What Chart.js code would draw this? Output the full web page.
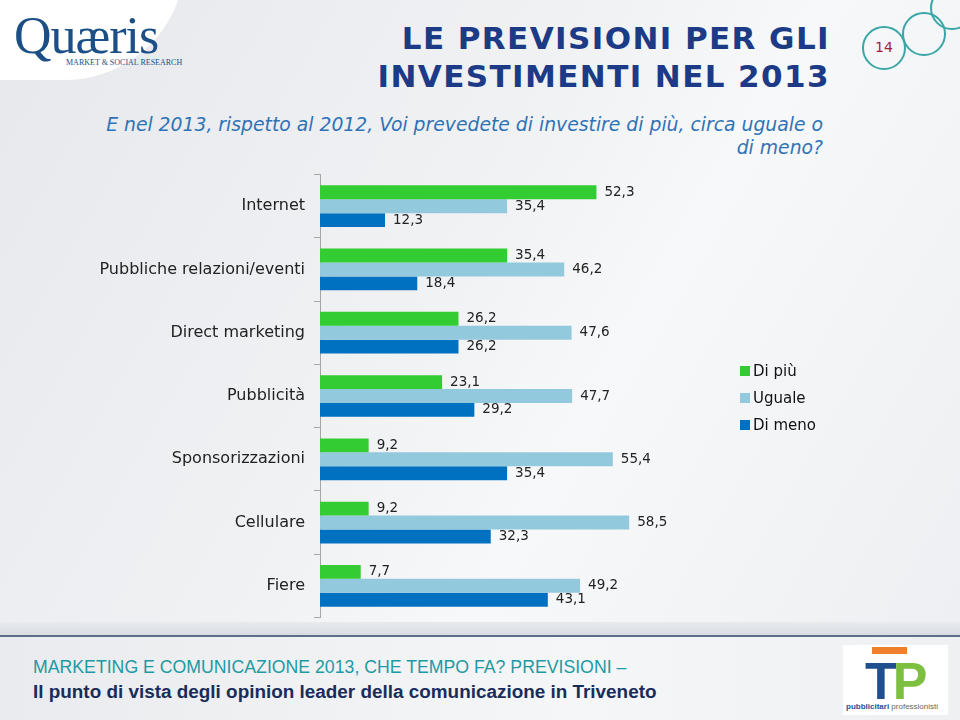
<!DOCTYPE html>
<html>
<head>
<meta charset="utf-8">
<script src="https://cdn.jsdelivr.net/npm/chart.js@4"></script>
<style>
  body { margin: 0; }
  #page {
    position: relative; width: 960px; height: 720px; overflow: hidden;
    background: linear-gradient(120deg, #e6e8ec 0%, #f1f2f4 45%, #f7f8f9 60%, #eceef1 100%);
    font-family: "DejaVu Sans", sans-serif;
  }
  #blob {
    position: absolute; left: -40px; top: -60px; width: 225px; height: 140px;
    background: #fff; border-radius: 0 0 120px 0;
  }
  #logo { position: absolute; left: 14px; top: 8px; color: #1b4f86; }
  #logo .name { font-family: "Liberation Serif", serif; font-size: 52px; letter-spacing: -1px; line-height: 56px; }
  #logo .sub { font-family: "Liberation Serif", serif; font-size: 8px; margin-left: 52px; margin-top: -6px; }
  #title {
    position: absolute; right: 130px; top: 19px; text-align: right;
    font: bold 31px "DejaVu Sans", sans-serif; color: #1c3a86; line-height: 38px; letter-spacing: 1.4px;
  }
  #subtitle {
    position: absolute; right: 137px; top: 113px; text-align: right;
    font: italic 18.8px "DejaVu Sans", sans-serif; color: #2f73b6; line-height: 23px;
  }
  .circ { position: absolute; border: 2px solid #3aa6a8; border-radius: 50%; }
  #num { position: absolute; left: 864px; top: 39px; width: 40px; text-align: center; font-size: 14px; color: #a31f3c; }
  #chart { position: absolute; left: 0; top: 156px; }
  #legend { position: absolute; left: 740px; top: 362px; font-size: 15px; color: #111; }
  #legend div { height: 27px; line-height: 18px; }
  #legend span.sw { display: inline-block; width: 10px; height: 10px; margin-right: 3px; }
  #band { position: absolute; left: 0; top: 622px; width: 960px; height: 13px; background: linear-gradient(#e8eaed, #d9dde2); }
  #rule { position: absolute; left: 0; top: 635px; width: 960px; height: 2px; background: #5c6f88; }
  #foot {
    position: absolute; left: 0; top: 637px; width: 960px; height: 83px;
    background: linear-gradient(90deg, #e9ebee, #f5f6f7 60%, #eef0f2);
  }
  #f1 { position: absolute; left: 33px; top: 657px; font: 17.7px "Liberation Sans", sans-serif; color: #1d9aa3; }
  #f2 { position: absolute; left: 33px; top: 681px; font: bold 18.9px "Liberation Sans", sans-serif; color: #1a2d5a; }
  #tp { position: absolute; left: 843px; top: 645px; width: 105px; height: 70px; background: #fff; }
</style>
</head>
<body>
<div id="page">
  <div id="blob"></div>
  <div id="logo"><div class="name">Quæris</div><div class="sub">MARKET &amp; SOCIAL RESEARCH</div></div>
  <div id="title">LE PREVISIONI PER GLI<br>INVESTIMENTI NEL 2013</div>
  <div id="subtitle">E nel 2013, rispetto al 2012, Voi prevedete di investire di più, circa uguale o<br>di meno?</div>
  <div class="circ" style="left:862px;top:26px;width:40px;height:40px;"></div>
  <div class="circ" style="left:902px;top:12px;width:40px;height:40px;"></div>
  <div class="circ" style="left:930px;top:-14px;width:40px;height:40px;"></div>
  <div id="num">14</div>
  <canvas id="chart" width="960" height="480"></canvas>
  <div id="legend">
    <div><span class="sw" style="background:#33cc33"></span>Di più</div>
    <div><span class="sw" style="background:#93c9dd"></span>Uguale</div>
    <div><span class="sw" style="background:#0070c0"></span>Di meno</div>
  </div>
  <div id="band"></div>
  <div id="rule"></div>
  <div id="foot"></div>
  <div id="f1">MARKETING E COMUNICAZIONE 2013, CHE TEMPO FA? PREVISIONI –</div>
  <div id="f2">Il punto di vista degli opinion leader della comunicazione in Triveneto</div>
  <div id="tp">
    <div style="position:absolute;left:29px;top:2px;width:35px;height:7px;background:#f07f2c"></div>
    <div style="position:absolute;left:22px;top:6px;font:bold 52px 'Liberation Sans',sans-serif;color:#1f4f8f;letter-spacing:-4px">T<span style="color:#7dbf3f">P</span></div>
    <div style="position:absolute;left:3px;top:57px;font:8px 'Liberation Sans Narrow','Liberation Sans',sans-serif;color:#1f4f8f;white-space:nowrap"><b>pubblicitari</b> <span style="color:#666">professionisti</span></div>
  </div>
</div>
<script>
const categories = ["Internet", "Pubbliche relazioni/eventi", "Direct marketing", "Pubblicità", "Sponsorizzazioni", "Cellulare", "Fiere"];
const diPiu   = [52.3, 35.4, 26.2, 23.1, 9.2, 9.2, 7.7];
const uguale  = [35.4, 46.2, 47.6, 47.7, 55.4, 58.5, 49.2];
const diMeno  = [12.3, 18.4, 26.2, 29.2, 35.4, 32.3, 43.1];

const valueLabels = {
    id: "valueLabels",
    afterDatasetsDraw(chart) {
        const ctx = chart.ctx;
        ctx.save();
        ctx.font = "13.5px 'DejaVu Sans'";
        ctx.fillStyle = "#222";
        ctx.textBaseline = "middle";
        chart.data.datasets.forEach((ds, i) => {
            chart.getDatasetMeta(i).data.forEach((bar, j) => {
                const txt = ds.data[j].toFixed(1).replace(".", ",");
                ctx.fillText(txt, bar.x + 8, bar.y);
            });
        });
        ctx.restore();
    }
};

const ctx = document.getElementById("chart");
new Chart(ctx, {
    type: "bar",
    data: {
        labels: categories,
        datasets: [
            { label: "Di più", data: diPiu, backgroundColor: "#33cc33" },
            { label: "Uguale", data: uguale, backgroundColor: "#93c9dd" },
            { label: "Di meno", data: diMeno, backgroundColor: "#0070c0" },
        ],
    },
    options: {
        indexAxis: "y",
        responsive: false,
        animation: false,
        categoryPercentage: 0.66,
        barPercentage: 1.0,
        layout: { padding: { right: 270, top: 0, bottom: 0 } },
        scales: {
            x: { display: false, min: 0, max: 70 },
            y: {
                afterFit(scale) { scale.width = 320; },
                border: { color: "#a6a6a6", width: 1 },
                grid: { offset: true, drawOnChartArea: false, drawTicks: true, tickLength: 6, color: "#a6a6a6" },
                ticks: { color: "#222", padding: 9, font: { family: "DejaVu Sans", size: 16 } },
            },
        },
        plugins: {
            legend: { display: false },
            tooltip: { enabled: false },
        },
    },
    plugins: [valueLabels],
});
</script>
</body>
</html>
